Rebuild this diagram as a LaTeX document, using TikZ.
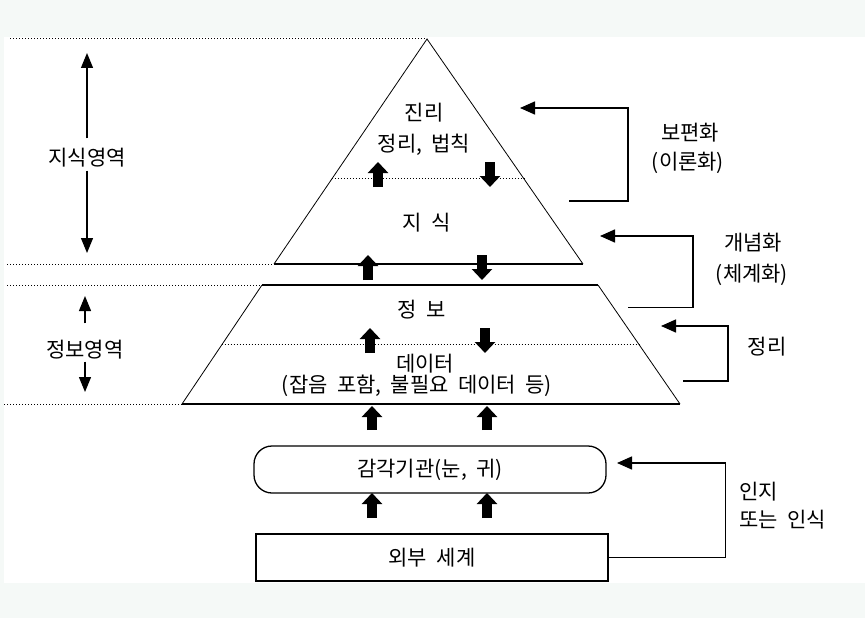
\documentclass[tikz,border=0pt]{standalone}
\usepackage{fontspec}
\newfontfamily\kr[WordSpace=2]{Noto Sans CJK KR}
\usetikzlibrary{arrows.meta,calc}
\definecolor{bgcol}{RGB}{245,249,247}

\begin{document}
\begin{tikzpicture}[x=1pt,y=-1pt,
  every node/.style={font=\kr\fontsize{21}{24}\selectfont,inner sep=2pt},
  dotline/.style={line width=1pt,dash pattern=on 1pt off 2pt},
  fat/.style={line width=10pt,-{Triangle[width=20pt,length=11pt]}},
  fb/.style={line width=1.5pt,-{Triangle[width=13pt,length=15pt]}},
  span/.style={line width=1.2pt,-{Triangle[width=12pt,length=15pt]}},
  layer/.style={line width=1.6pt},
  edge/.style={line width=0.8pt},
  box/.style={draw,line width=1.3pt,minimum width=352pt,minimum height=47pt}]

  % background
  \fill[bgcol] (0,0) rectangle (865,618);
  \fill[white] (4,37) rectangle (865,583);

  % pyramid
  \coordinate (apex) at (427,39);
  \coordinate (tl) at (274,264);
  \coordinate (tr) at (583,264);
  \coordinate (ql) at (262,285);
  \coordinate (qr) at (598,285);
  \coordinate (bl) at (182,404);
  \coordinate (br) at (680,404);
  \draw[edge] (tl) -- (apex) -- (tr);
  \draw[layer] (tl) -- (tr);
  \draw[edge] (ql) -- (bl) (qr) -- (br);
  \draw[layer] (ql) -- (qr) (bl) -- (br);
  \draw[dotline] ($(apex)!0.622!(tl)$) -- ($(apex)!0.622!(tr)$);
  \draw[dotline] ($(ql)!0.504!(bl)$) -- ($(qr)!0.504!(br)$);

  % dotted guide lines
  \draw[dotline] (10,39) -- (apex);
  \draw[dotline] (7,264) -- (tl);
  \draw[dotline] (7,285) -- (ql);
  \draw[dotline] (4,404) -- (bl);

  % layer texts
  \node (jinri) at (424,113) {진리};
  \node (beop) at (424,145) {정리, 법칙};
  \node (jisik) at (427,223) {지 식};
  \node (jeongbo) at (422,310) {정 보};
  \node (data) at (425,364) {데이터};
  \node (noise) at (417,386) {(잡음 포함, 불필요 데이터 등)};
  \node[box,rounded corners=18pt] (sense) at (430,469.5) {감각기관(눈, 귀)};
  \node[box] (world) at (432,557.5) {외부 세계};

  % fat arrows
  \foreach \x/\a/\b in {378/187/162, 490/162/187, 368/280/255, 482/255/280,
                        370/353/328, 485/328/353, 372/430/406, 487/430/406,
                        372/518/493, 487/518/493}
    \draw[fat] (\x,\a) -- (\x,\b);

  % left: areas
  \node (jsa) at (87,158) {지식영역};
  \node (jba) at (85,350) {정보영역};
  \coordinate (jsa-t) at (87,53);
  \coordinate (jsa-b) at (87,253);
  \coordinate (jba-t) at (85,296);
  \coordinate (jba-b) at (85,392);
  \draw[span,shorten <=8pt] (jsa.north) -- (jsa-t);
  \draw[span,shorten <=1pt] (jsa.south) -- (jsa-b);
  \draw[span,shorten <=15pt] (jba.north) -- (jba-t);
  \draw[span] (jba.south) -- (jba-b);

  % right: feedback labels
  \node (bph) at (690,133) {보편화};
  \node (irh) at (688,163) {(이론화)};
  \node (gnh) at (753,243) {개념화};
  \node (cgh) at (752,275) {(체계화)};
  \node (jr) at (767,347) {정리};
  \node[anchor=west] (inji) at (737,492) {인지};
  \node[anchor=west] (insik) at (737,520) {또는 인식};

  % right: feedback loops
  \coordinate (bph-s) at (569,201);
  \coordinate (bph-e) at (520,108);
  \coordinate (gnh-s) at (628,307.5);
  \coordinate (gnh-e) at (600,236);
  \coordinate (jr-s) at (683,381);
  \coordinate (jr-e) at (661,326);
  \coordinate (inji-e) at (617,463);
  \draw[fb] (bph-s) -- ++(59,0) |- (bph-e);
  \draw[fb] (gnh-s) -- ++(65,0) |- (gnh-e);
  \draw[fb] (jr-s) -- ++(45,0) |- (jr-e);
  \draw[fb] (world.east) -- ++(117,0) |- (inji-e);

\end{tikzpicture}
\end{document}
